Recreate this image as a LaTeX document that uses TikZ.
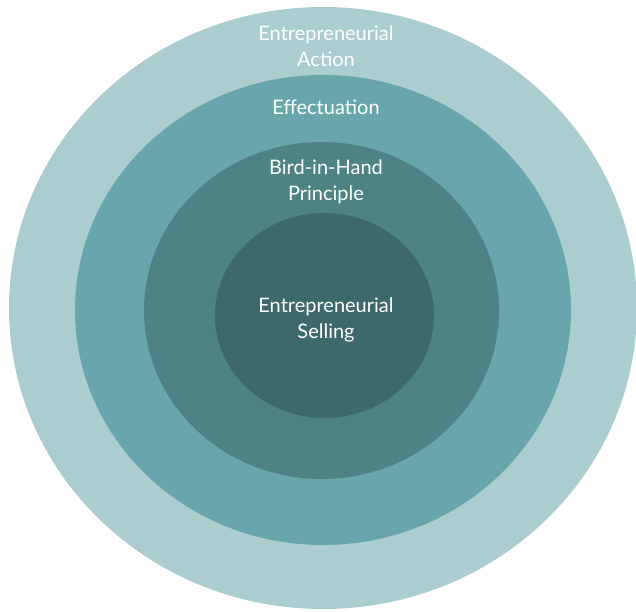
\documentclass[tikz,border=0pt]{standalone}
\usepackage{fontspec}
\setmainfont{Lato}
\definecolor{actioncol}{RGB}{171,205,207}
\definecolor{effectcol}{RGB}{103,166,171}
\definecolor{birdcol}{RGB}{78,131,133}
\definecolor{sellcol}{RGB}{61,105,108}
\begin{document}
\begin{tikzpicture}[x=1pt,y=1pt]

        % Styles
        \tikzstyle{ring label}=[text=white,align=center,inner sep=0pt,font=\fontsize{20}{26}\selectfont]
        %The graphic
        \useasboundingbox (0,0) rectangle (636,611);
        \clip (0,0) rectangle (636,611);
        %rings
        \fill[actioncol] (323,303) ellipse [x radius=314, y radius=301];
        \fill[effectcol] (323,301) ellipse [x radius=248, y radius=235];
        \fill[birdcol] (321.5,300.5) ellipse [x radius=177.5, y radius=168.5];
        \fill[sellcol] (324.5,295.5) ellipse [x radius=109.5, y radius=102.5];
        %labels
        \node[ring label] (action) at (326,565) {Entrepreneurial\\Action};
        \node[ring label] (effect) at (326,503.5) {Effectuation};
        \node[ring label] (bird) at (326,429) {Bird-in-Hand\\Principle};
        \node[ring label] (sell) at (326,291.5) {Entrepreneurial\\Selling};
\end{tikzpicture}
\end{document}
